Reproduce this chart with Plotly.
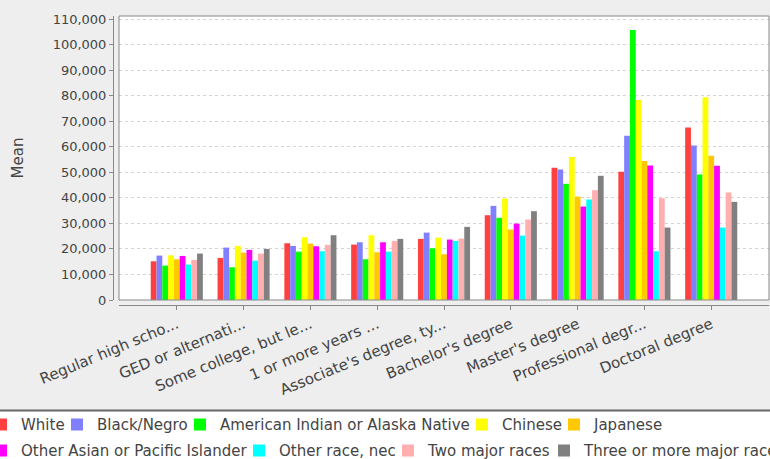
import plotly.graph_objects as go

categories = ["Regular high scho...", "GED or alternati...", "Some college, but le...",
              "1 or more years ...", "Associate's degree, ty...", "Bachelor's degree",
              "Master's degree", "Professional degr...", "Doctoral degree"]

series_names = ["White", "Black/Negro", "American Indian or Alaska Native", "Chinese", "Japanese",
                "Other Asian or Pacific Islander", "Other race, nec", "Two major races",
                "Three or more major races"]

white = [15160, 16470, 22220, 21700, 23920, 33200, 51760, 50200, 67580]
black = [17390, 20520, 21180, 22610, 26400, 36860, 51110, 64310, 60520]
amer_indian = [13460, 12810, 18950, 15950, 20260, 32160, 45490, 105750, 49150]
chinese = [17500, 21180, 24580, 25360, 24440, 39740, 55950, 78300, 79350]
japanese = [15950, 18560, 22090, 18690, 17910, 27580, 40520, 54380, 56470]
other_asian = [17250, 19610, 21050, 22610, 23660, 29930, 36600, 52680, 52550]
other_race = [13860, 15420, 19090, 18950, 23140, 25230, 39350, 19090, 28370]
two_races = [15690, 18170, 21570, 23140, 24050, 31500, 43010, 39870, 42090]
three_races = [18170, 20000, 25360, 23920, 28630, 34770, 48630, 28370, 38430]

y_ticks = list(range(0, 110001, 10000))

series_values = [white, black, amer_indian, chinese, japanese,
                 other_asian, other_race, two_races, three_races]
colors = ["#FF4040", "#8080FF", "#00FF00", "#FFFF00", "#FFC800",
          "#FF00FF", "#00FFFF", "#FFAFAF", "#808080"]

W, H = 770, 459
ML, MR, MT, MB = 113, 1, 16, 154
PW = W - ML - MR
PH = H - MT - MB

# legend entry placement (left edge of each entry, row centre), in pixels
legend_left_px = [-19, 57, 180, 462, 554, -19, 239, 388, 544]
legend_row_px = [424.7] * 5 + [450.7] * 4


def px_x(p):
    return (p - ML) / PW


def px_y(p):
    return (H - MB - p) / PH


legend_ids = ["legend%d" % (i + 2) for i in range(len(series_names))]

fig = go.Figure()
for name, vals, col, lg in zip(series_names, series_values, colors, legend_ids):
    fig.add_trace(go.Bar(x=categories, y=vals, name=name, marker_color=col,
                         marker_line_width=0, legend=lg, visible=True))

font13 = dict(family="DejaVu Sans", size=13, color="#444444")
font15 = dict(family="DejaVu Sans", size=15, color="#444444")
legend_common = dict(orientation="h", xanchor="left", yanchor="middle",
                     bgcolor="rgba(0,0,0,0)", borderwidth=0, font=font15,
                     xref="paper", yref="paper")

legends = {}
for lg, lx, ly in zip(legend_ids, legend_left_px, legend_row_px):
    legends[lg] = dict(x=px_x(lx), y=px_y(ly), **legend_common)

fig.update_layout(
    width=W, height=H,
    margin=dict(l=ML, r=MR, t=MT, b=MB, autoexpand=False),
    paper_bgcolor="#EEEEEE",
    plot_bgcolor="#FFFFFF",
    font=font15,
    showlegend=True,
    barmode="group",
    bargap=0.22,
    bargroupgap=0,
    xaxis=dict(
        domain=[6 / PW, 1], anchor="free", position=0,
        type="category", range=[-0.865, 8.865],
        showline=True, linecolor="#888888", linewidth=1,
        ticks="outside", ticklen=4, tickcolor="#888888",
        tickangle=-22.5, tickfont=font15, showgrid=False,
    ),
    yaxis=dict(
        domain=[5 / PH, 1], anchor="free", position=0,
        range=[0, 111200], tickvals=y_ticks, tickformat=",d",
        showline=True, linecolor="#888888", linewidth=1,
        ticks="outside", ticklen=4, tickcolor="#888888",
        tickfont=font13, gridcolor="#D4D4D4", griddash="3px,3px", gridwidth=1,
        zeroline=False,
        title=dict(text="Mean", font=font15, standoff=24),
    ),
    shapes=[
        dict(type="rect", xref="x domain", yref="y domain", x0=0, x1=1, y0=0, y1=1,
             line=dict(color="#888888", width=1), layer="above"),
        dict(type="rect", xref="paper", yref="paper",
             x0=px_x(-20), x1=px_x(790), y0=px_y(410.5), y1=px_y(475),
             fillcolor="#FFFFFF", line=dict(color="#666666", width=2), layer="below"),
    ],
    **legends,
)

fig.write_html("out.html",
               config={"displayModeBar": False},
               post_script="document.body.style.margin='0px';"
                           "document.body.style.overflow='hidden';")
